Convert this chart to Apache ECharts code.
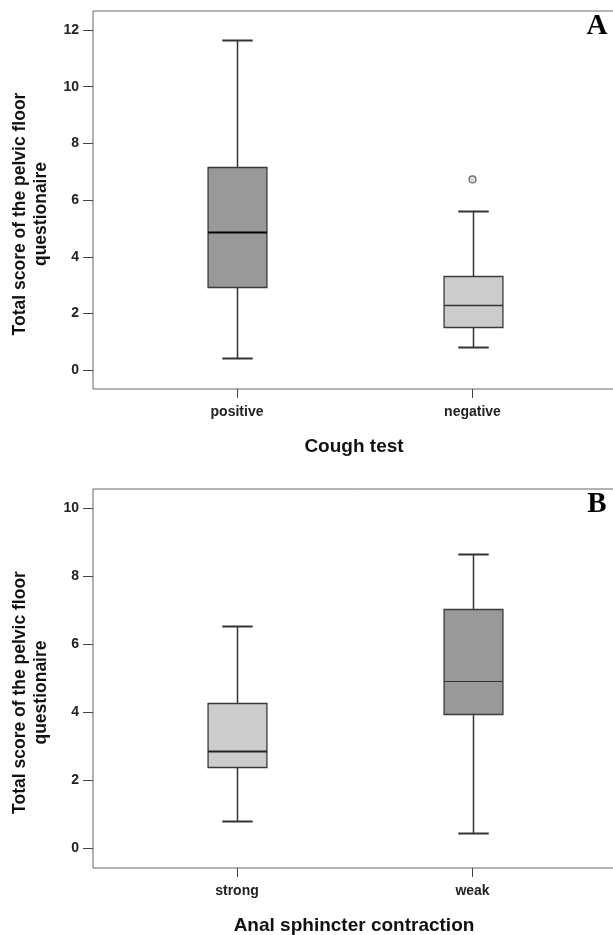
<!DOCTYPE html>
<html>
<head>
<meta charset="utf-8">
<script src="https://cdn.jsdelivr.net/npm/echarts@6/dist/echarts.min.js"></script>
<style>
html,body{margin:0;padding:0;background:#fff;}
#chart{width:613px;height:935px;}
</style>
</head>
<body>
<div id="chart"></div>
<script>
// ---- data ----
const categoriesA = ['positive', 'negative'];
const boxA = [            // [low whisker, Q1, median, Q3, high whisker]
  [0.44, 2.93, 4.88, 7.17, 11.66],
  [0.82, 1.52, 2.30, 3.31, 5.62]
];
const outliersA = [['negative', 6.73]];
const yTicksA = [0, 2, 4, 6, 8, 10, 12];

const categoriesB = ['strong', 'weak'];
const boxB = [
  [0.80, 2.39, 2.87, 4.29, 6.53],
  [0.45, 3.96, 4.94, 7.04, 8.66]
];
const yTicksB = [0, 2, 4, 6, 8, 10];

const xTitleA = 'Cough test';
const xTitleB = 'Anal sphincter contraction';
const yTitle = 'Total score of the pelvic floor\nquestionaire';

// ---- styles ----
const DARK = '#999999', LIGHT = '#cccccc';
const fillsA = [DARK, LIGHT];
const fillsB = [LIGHT, DARK];
const medianA = [{stroke: '#000', lineWidth: 2}, {stroke: '#333', lineWidth: 1.5}];
const medianB = [{stroke: '#222', lineWidth: 2}, {stroke: '#333', lineWidth: 1.2}];
const FONT = '"Liberation Sans", Arial, sans-serif';

function makeRender(fills, medians) {
  return function (params, api) {
    const i = api.value(0);
    const x = Math.round(api.coord([i, 0])[0]) + 0.5;
    const band = api.size([1, 0])[0];
    const bw = band * 0.25, cw = bw / 2;
    const y = k => Math.round(api.coord([i, api.value(k)])[1]) + 0.5;
    const yLo = y(1), yQ1 = y(2), yMed = y(3), yQ3 = y(4), yHi = y(5);
    const ws = {stroke: '#333', lineWidth: 1.5};
    return {
      type: 'group',
      children: [
        {type: 'line', shape: {x1: x, y1: yHi, x2: x, y2: yQ3}, style: ws},
        {type: 'line', shape: {x1: x, y1: yQ1, x2: x, y2: yLo}, style: ws},
        {type: 'line', shape: {x1: x - cw / 2 - 0.5, y1: yHi, x2: x + cw / 2 + 0.5, y2: yHi}, style: {stroke: '#333', lineWidth: 2}},
        {type: 'line', shape: {x1: x - cw / 2 - 0.5, y1: yLo, x2: x + cw / 2 + 0.5, y2: yLo}, style: {stroke: '#333', lineWidth: 2}},
        {type: 'rect', shape: {x: x - bw / 2, y: yQ3, width: bw, height: yQ1 - yQ3},
          style: {fill: fills[i], stroke: '#3a3a3a', lineWidth: 1.3}},
        {type: 'line', shape: {x1: x - bw / 2, y1: yMed, x2: x + bw / 2, y2: yMed}, style: medians[i]}
      ]
    };
  };
}

const chart = echarts.init(document.getElementById('chart'), null, {renderer: 'canvas'});

const panels = [
  {top: 11, height: 378, min: -0.66, max: 12.67, cats: categoriesA, box: boxA, ticks: yTicksA,
    fills: fillsA, medians: medianA, xTitle: xTitleA, letter: 'A'},
  {top: 489, height: 379, min: -0.57, max: 10.57, cats: categoriesB, box: boxB, ticks: yTicksB,
    fills: fillsB, medians: medianB, xTitle: xTitleB, letter: 'B'}
];

const grid = [], xAxis = [], yAxis = [], series = [], graphic = [];
panels.forEach((p, k) => {
  // frame grid (axis box)
  grid.push({left: 93, top: p.top, width: 524, height: p.height, show: true,
    outerBoundsMode: 'none', containLabel: false,
    borderColor: '#666', borderWidth: 1, backgroundColor: 'transparent'});
  // data grid
  grid.push({left: 119.25, top: p.top, width: 471, height: p.height,
    outerBoundsMode: 'none', containLabel: false});
  const gF = 2 * k, gD = 2 * k + 1;
  xAxis.push({gridIndex: gF, type: 'value', show: false, min: 0, max: 1});
  xAxis.push({gridIndex: gD, type: 'category', data: p.cats, boundaryGap: true, position: 'bottom',
    axisLine: {show: false, onZero: false},
    axisTick: {show: true, alignWithLabel: true, length: 9, lineStyle: {color: '#444', width: 1}},
    axisLabel: {fontFamily: FONT, fontSize: 14, fontWeight: 'bold', color: '#222', margin: 16},
    splitLine: {show: false}});
  yAxis.push({gridIndex: gF, type: 'value', min: p.min, max: p.max,
    axisLine: {show: false},
    axisTick: {show: true, length: 10, customValues: p.ticks, lineStyle: {color: '#444', width: 1}},
    axisLabel: {customValues: p.ticks, fontFamily: FONT, fontSize: 14, fontWeight: 'bold', color: '#222', margin: 14},
    splitLine: {show: false}});
  yAxis.push({gridIndex: gD, type: 'value', min: p.min, max: p.max, show: false, splitLine: {show: false}});
  series.push({
    type: 'custom', xAxisIndex: gD, yAxisIndex: gD,
    data: p.box.map((d, i) => [i].concat(d)),
    encode: {x: 0, y: [1, 2, 3, 4, 5]},
    renderItem: makeRender(p.fills, p.medians),
    z: 3
  });
  const axisBottom = p.top + p.height;
  graphic.push({type: 'text', x: 354, y: axisBottom + 58,
    style: {text: p.xTitle, font: 'bold 19px ' + FONT, fill: '#111', align: 'center', verticalAlign: 'middle'}});
  graphic.push({type: 'text', x: 30.5, y: p.top + p.height / 2 + 14, rotation: Math.PI / 2,
    style: {text: yTitle, font: 'bold 17.5px ' + FONT, fill: '#111', align: 'center', verticalAlign: 'middle', lineHeight: 21}});
  graphic.push({type: 'text', x: 597, y: p.top + 16,
    style: {text: p.letter, font: 'bold 29px "Liberation Serif", "Times New Roman", serif', fill: '#000', align: 'center', verticalAlign: 'middle'}});
});

series.push({
  type: 'scatter', xAxisIndex: 1, yAxisIndex: 1,
  data: outliersA,
  symbol: 'circle', symbolSize: 7,
  itemStyle: {color: '#d0d0d0', borderColor: '#444', borderWidth: 1.2},
  z: 4
});

chart.setOption({
  animation: false,
  backgroundColor: '#fff',
  grid, xAxis, yAxis, series, graphic
});
</script>
</body>
</html>
